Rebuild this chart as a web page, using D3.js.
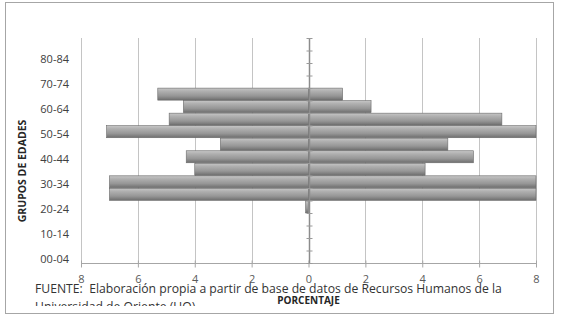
<!DOCTYPE html>
<html>
<head>
<meta charset="utf-8">
<script src="https://cdn.jsdelivr.net/npm/d3@7"></script>
<style>
  body { margin: 0; background: #fff; }
  text { font-family: "Open Sans", sans-serif; }
</style>
</head>
<body>
<div id="chart"></div>
<script>
// age groups, bottom to top
const groups = ["00-04", "05-09", "10-14", "15-19", "20-24", "25-29", "30-34", "35-39", "40-44",
  "45-49", "50-54", "55-59", "60-64", "65-69", "70-74", "75-79", "80-84", "85-89"];
// percentage drawn to the left of 0
const leftValues = [0, 0, 0, 0, 0.1, 7.0, 7.0, 4.0, 4.3, 3.1, 7.1, 4.9, 4.4, 5.3, 0, 0, 0, 0];
// percentage drawn to the right of 0
const rightValues = [0, 0, 0, 0, 0, 8.0, 8.0, 4.1, 5.8, 4.9, 8.0, 6.8, 2.2, 1.2, 0, 0, 0, 0];
const xTicks = [-8, -6, -4, -2, 0, 2, 4, 6, 8];
const shownGroups = ["00-04", "10-14", "20-24", "30-34", "40-44", "50-54", "60-64", "70-74", "80-84"];

const width = 566;
const height = 324;
const plot = { left: 81, right: 536, top: 38, bottom: 263 };

const svg = d3.select("#chart").append("svg")
  .attr("width", width)
  .attr("height", height);

const defs = svg.append("defs");
const grad = defs.append("linearGradient")
  .attr("id", "barGrad")
  .attr("x1", 0).attr("y1", 0).attr("x2", 0).attr("y2", 1);
grad.append("stop").attr("offset", "0%").attr("stop-color", "#c6c6c6");
grad.append("stop").attr("offset", "25%").attr("stop-color", "#b0b0b0");
grad.append("stop").attr("offset", "65%").attr("stop-color", "#969696");
grad.append("stop").attr("offset", "100%").attr("stop-color", "#6e6e6e");

defs.append("clipPath").attr("id", "noteClip")
  .append("rect").attr("x", 0).attr("y", 0).attr("width", width).attr("height", 306);

// outer frame
svg.append("rect")
  .attr("x", 5.5).attr("y", 2.5)
  .attr("width", 548).attr("height", 311)
  .attr("fill", "#fff")
  .attr("stroke", "#a6a6a6");

const x = d3.scaleLinear()
  .domain([-8, 8])
  .range([plot.left, plot.right]);

const y = d3.scaleBand()
  .domain(groups.slice().reverse())
  .range([plot.top, plot.bottom])
  .paddingInner(0.04);

// index scale for category tick marks (band boundaries)
const yIdx = d3.scaleLinear()
  .domain([0, groups.length])
  .range([plot.bottom, plot.top]);

// vertical gridlines
svg.append("g")
  .selectAll("line")
  .data(xTicks.filter(d => d !== 0))
  .enter().append("line")
  .attr("x1", d => Math.round(x(d)) + 0.5)
  .attr("x2", d => Math.round(x(d)) + 0.5)
  .attr("y1", plot.top)
  .attr("y2", plot.bottom)
  .attr("stroke", "#c4c4c4");

// bottom axis
const xAxis = d3.axisBottom(x)
  .tickValues(xTicks)
  .tickSize(4)
  .tickPadding(8)
  .tickFormat(d => Math.abs(d));

const gx = svg.append("g")
  .attr("transform", `translate(0, ${plot.bottom + 0.5})`)
  .call(xAxis);
gx.select(".domain").attr("stroke", "#a6a6a6").attr("d", `M${plot.left},0H${plot.right}`);
gx.selectAll(".tick line").attr("stroke", "#a6a6a6").attr("y1", -3);
gx.selectAll(".tick text")
  .attr("fill", "#595959")
  .style("font-size", "11px")
  .style("font-family", "'Open Sans', sans-serif");

// bars
const rows = groups.map((g, i) => ({ group: g, left: leftValues[i], right: rightValues[i] }));

svg.append("g")
  .selectAll("rect")
  .data(rows.filter(d => d.left > 0))
  .enter().append("rect")
  .attr("x", d => x(-d.left))
  .attr("y", d => y(d.group))
  .attr("width", d => x(0) - x(-d.left))
  .attr("height", y.bandwidth())
  .attr("fill", "url(#barGrad)")
  .attr("stroke", "#6a6a6a")
  .attr("stroke-width", 0.6);

svg.append("g")
  .selectAll("rect")
  .data(rows.filter(d => d.right > 0))
  .enter().append("rect")
  .attr("x", x(0))
  .attr("y", d => y(d.group))
  .attr("width", d => x(d.right) - x(0))
  .attr("height", y.bandwidth())
  .attr("fill", "url(#barGrad)")
  .attr("stroke", "#6a6a6a")
  .attr("stroke-width", 0.6);

// central category axis with tick marks
const yTickAxis = d3.axisLeft(yIdx)
  .tickValues(d3.range(groups.length + 1))
  .tickSize(4)
  .tickFormat("");

const gc = svg.append("g")
  .attr("transform", `translate(${x(0) + 1}, 0)`)
  .call(yTickAxis);
gc.select(".domain").attr("stroke", "#8c8c8c").attr("stroke-width", 1.5)
  .attr("d", `M0,${plot.top}V${plot.bottom}`);
gc.selectAll(".tick line").attr("stroke", "#9a9a9a").attr("x2", -3).attr("x1", 3);

// category labels
const yAxis = d3.axisLeft(y)
  .tickValues(shownGroups)
  .tickSize(0)
  .tickPadding(0);

const gy = svg.append("g")
  .attr("transform", `translate(69, 2.5)`)
  .call(yAxis);
gy.select(".domain").remove();
gy.selectAll(".tick text")
  .attr("fill", "#404040")
  .style("font-size", "11px")
  .style("font-family", "'Open Sans', sans-serif");

// axis titles
svg.append("text")
  .attr("transform", "translate(26, 171) rotate(-90)")
  .attr("text-anchor", "middle")
  .attr("fill", "#262626")
  .style("font-size", "10.5px")
  .style("font-weight", "bold")
  .text("GRUPOS DE EDADES");

// source note, cut off at the bottom like the original text box
const note = svg.append("g").attr("clip-path", "url(#noteClip)");
note.append("text")
  .attr("x", 35).attr("y", 293)
  .attr("fill", "#333")
  .style("font-size", "12.2px")
  .attr("xml:space", "preserve")
  .text("FUENTE:  Elaboración propia a partir de base de datos de Recursos Humanos de la");
note.append("text")
  .attr("x", 35).attr("y", 310.5)
  .attr("fill", "#333")
  .style("font-size", "12.2px")
  .text("Universidad de Oriente (UO)");

svg.append("text")
  .attr("x", x(0))
  .attr("y", 304)
  .attr("text-anchor", "middle")
  .attr("fill", "#262626")
  .style("font-size", "10px")
  .style("font-weight", "bold")
  .text("PORCENTAJE");
</script>
</body>
</html>
